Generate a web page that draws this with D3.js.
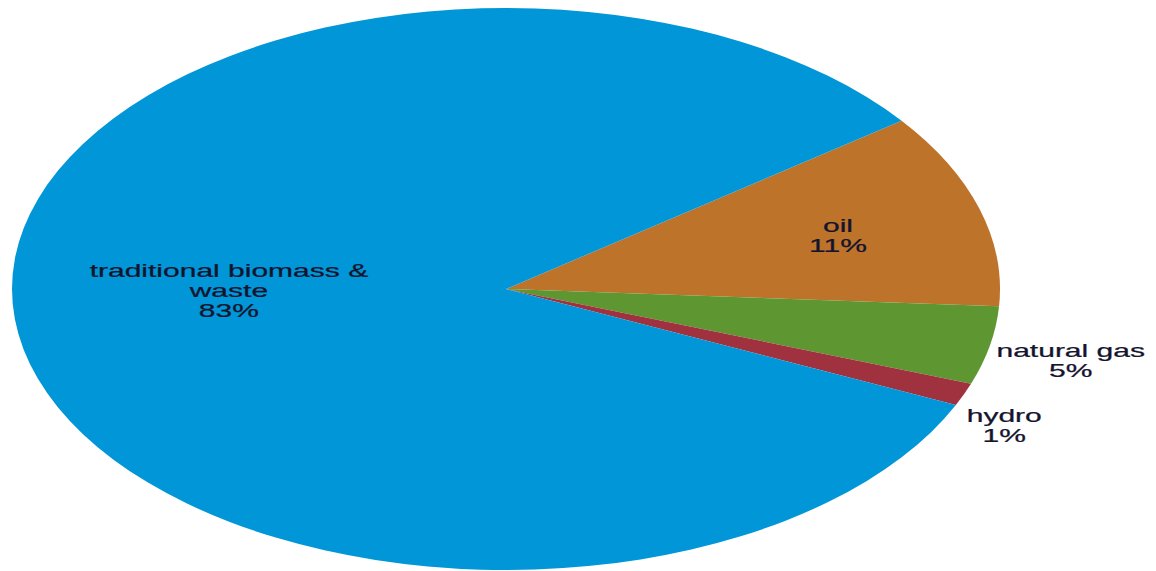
<!DOCTYPE html>
<html>
<head>
<meta charset="utf-8">
<script src="https://cdn.jsdelivr.net/npm/d3@7"></script>
<style>
  html, body { margin: 0; padding: 0; background: #fff; }
  svg { display: block; }
</style>
</head>
<body>
<svg id="chart" width="1156" height="571"></svg>
<script>
// ---- data ----
const categories = ["oil", "natural gas", "hydro", "traditional biomass & waste"];
const shares = [11.2, 4.5, 1.3, 83.0];
const percentLabels = ["11%", "5%", "1%", "83%"];

// ---- styling / layout ----
const colors = ["#BE732A", "#5E9732", "#A0323F", "#0096D7"];
const labelRadiusFactor = [0.699, 1.171, 1.119, 0.561];
const labelAngleOffsetDeg = [0.7, 0.9, 3.6, 5.6];
const labelLineHeight = [20, 20, 19.7, 20];
const labelLines = [["oil"], ["natural gas"], ["hydro"], ["traditional biomass &", "waste"]];
const W = 1156, H = 571;
const cx = 506, cy = 289, rx = 494, ry = 281;
const startDeg = 53.2;
const fontSize = 19, stretchX = 1.58;

const svg = d3.select("#chart");
const data = categories.map((c, i) => ({ name: c, value: shares[i], i }));

const pie = d3.pie()
  .sort(null)
  .value(d => d.value)
  .startAngle(startDeg * Math.PI / 180)
  .endAngle((startDeg + 360) * Math.PI / 180);

const arcs = pie(data);
const arc = d3.arc().innerRadius(0).outerRadius(rx);

const g = svg.append("g")
  .attr("transform", `translate(${cx},${cy}) scale(1,${ry / rx})`);

g.selectAll("path")
  .data(arcs)
  .join("path")
  .attr("d", arc)
  .attr("fill", d => colors[d.data.i]);

// labels
const labels = svg.append("g");
arcs.forEach(a => {
  const i = a.data.i;
  const mid = (a.startAngle + a.endAngle) / 2 + labelAngleOffsetDeg[i] * Math.PI / 180;
  const f = labelRadiusFactor[i];
  const x = cx + Math.sin(mid) * rx * f;
  const y = cy - Math.cos(mid) * ry * f;
  const lines = labelLines[i].concat([percentLabels[i]]);
  const n = lines.length;
  const lh = labelLineHeight[i];
  const t = labels.append("text")
    .attr("transform", `translate(${x},${y}) scale(${stretchX},1)`)
    .attr("text-anchor", "middle")
    .attr("font-family", "Liberation Sans, Arial, sans-serif")
    .attr("font-size", fontSize)
    .attr("fill", "#14142e")
    .attr("stroke", "#14142e")
    .attr("stroke-width", 0.25);
  lines.forEach((ln, k) => {
    t.append("tspan")
      .attr("x", 0)
      .attr("y", (k - (n - 1) / 2) * lh)
      .attr("dy", "0.35em")
      .text(ln);
  });
});
</script>
</body>
</html>
